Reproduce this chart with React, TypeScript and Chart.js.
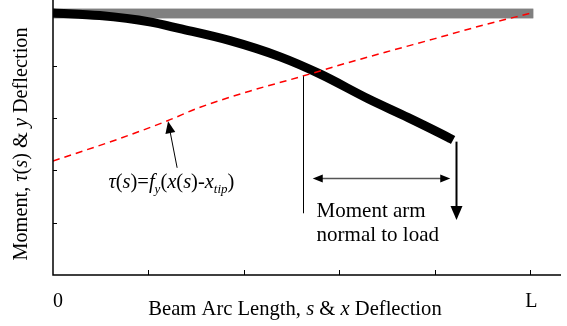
import React, { useEffect, useRef } from 'react';
import { Chart, registerables } from 'chart.js';

Chart.register(...registerables);

// ---- data ----
const xTicks = [0, 1, 2, 3, 4, 5];
const xTickLabels = ['0', '', '', '', '', 'L'];
const yTicks = [1, 2, 3, 4, 5];

const refS = [0, 5.03];
const refY = [5, 5];

const beamS = [0, 0.49, 1.01, 1.33, 1.855, 2.38, 2.8, 3.3, 3.72, 4.14, 4.19];
const beamY = [5.01, 4.96, 4.84, 4.71, 4.48, 4.17, 3.84, 3.37, 3.01, 2.63, 2.58];

const tauS = [0, 0.7, 1.2, 1.53, 2.05, 2.59, 3.09, 3.54, 4.0, 4.45, 5.03];
const tauY = [2.18, 2.61, 2.95, 3.2, 3.51, 3.79, 4.06, 4.29, 4.52, 4.75, 5.02];

// annotation anchors (data units)
const armLineS = 2.62;
const armLineY = [3.8, 1.18];
const momentArmS = [2.72, 4.16];
const momentArmY = 1.85;
const loadS = 4.22;
const loadY = [2.55, 1.05];
const tauArrowFrom = [1.3, 2.05];
const tauArrowTo = [1.205, 2.94];
const tauLabelPos = [0.58, 1.66];
const armTextPos = [2.76, 1.1];

const xMax = 5.32;
const yMax = 5.22;

const FONT = '"Liberation Serif", "Times New Roman", serif';

type Seg = { t: string; it?: boolean; sub?: boolean };

function drawRich(ctx: CanvasRenderingContext2D, segs: Seg[], x: number, y: number, size: number, align: 'left' | 'center') {
  const fontOf = (s: Seg) => `${s.it ? 'italic ' : ''}${s.sub ? Math.round(size * 0.65) : size}px ${FONT}`;
  const widths = segs.map((s) => {
    ctx.font = fontOf(s);
    return ctx.measureText(s.t).width;
  });
  const total = widths.reduce((a, b) => a + b, 0);
  let cx = align === 'center' ? x - total / 2 : x;
  ctx.textAlign = 'left';
  ctx.textBaseline = 'alphabetic';
  segs.forEach((s, i) => {
    ctx.font = fontOf(s);
    ctx.fillText(s.t, cx, s.sub ? y + size * 0.25 : y);
    cx += widths[i];
  });
}

function arrowHead(ctx: CanvasRenderingContext2D, x1: number, y1: number, x2: number, y2: number, len: number, half: number) {
  const a = Math.atan2(y2 - y1, x2 - x1);
  ctx.beginPath();
  ctx.moveTo(x2, y2);
  ctx.lineTo(x2 - len * Math.cos(a) + half * Math.sin(a), y2 - len * Math.sin(a) - half * Math.cos(a));
  ctx.lineTo(x2 - len * Math.cos(a) - half * Math.sin(a), y2 - len * Math.sin(a) + half * Math.cos(a));
  ctx.closePath();
  ctx.fill();
}

const decorPlugin = {
  id: 'decor',
  afterDatasetsDraw(chart: any) {
    const ctx: CanvasRenderingContext2D = chart.ctx;
    const xs = chart.scales.x;
    const ys = chart.scales.y;
    const { left, right, top, bottom } = chart.chartArea;
    const px = (v: number) => xs.getPixelForValue(v);
    const py = (v: number) => ys.getPixelForValue(v);
    ctx.save();
    ctx.fillStyle = '#000';
    ctx.strokeStyle = '#000';
    // axes
    ctx.lineWidth = 1.5;
    ctx.beginPath();
    ctx.moveTo(left, top - 2);
    ctx.lineTo(left, bottom);
    ctx.lineTo(right, bottom);
    ctx.stroke();
    ctx.lineWidth = 1;
    yTicks.forEach((v) => {
      ctx.beginPath();
      ctx.moveTo(left, Math.round(py(v)) + 0.5);
      ctx.lineTo(left + 4, Math.round(py(v)) + 0.5);
      ctx.stroke();
    });
    xTicks.slice(1).forEach((v) => {
      ctx.beginPath();
      ctx.moveTo(Math.round(px(v)) + 0.5, bottom);
      ctx.lineTo(Math.round(px(v)) + 0.5, bottom - 5);
      ctx.stroke();
    });
    // tick labels
    ctx.font = `20px ${FONT}`;
    ctx.textAlign = 'center';
    ctx.textBaseline = 'alphabetic';
    xTicks.forEach((v, i) => {
      if (!xTickLabels[i]) return;
      ctx.fillText(xTickLabels[i], px(v) + (i === 0 ? 5 : 1), bottom + 32);
    });
    // axis titles
    drawRich(ctx, [
      { t: 'Beam Arc Length, ' }, { t: 's', it: true }, { t: ' & ' }, { t: 'x', it: true }, { t: ' Deflection' },
    ], 295, 315, 20.6, 'center');
    ctx.save();
    ctx.translate(27, 144);
    ctx.rotate(-Math.PI / 2);
    drawRich(ctx, [
      { t: 'Moment, ' }, { t: 'τ', it: true }, { t: '(' }, { t: 's', it: true }, { t: ') & ' }, { t: 'y', it: true }, { t: ' Deflection' },
    ], 0, 0, 20.3, 'center');
    ctx.restore();

    // vertical reference line
    ctx.lineWidth = 1;
    ctx.beginPath();
    ctx.moveTo(Math.round(px(armLineS)) + 0.5, py(armLineY[0]));
    ctx.lineTo(Math.round(px(armLineS)) + 0.5, py(armLineY[1]));
    ctx.stroke();

    // moment arm double arrow
    const ay = Math.round(py(momentArmY)) + 0.5;
    const ax1 = px(momentArmS[0]);
    const ax2 = px(momentArmS[1]);
    ctx.strokeStyle = '#555';
    ctx.lineWidth = 1.5;
    ctx.beginPath();
    ctx.moveTo(ax1 + 6, ay);
    ctx.lineTo(ax2 - 6, ay);
    ctx.stroke();
    ctx.fillStyle = '#000';
    arrowHead(ctx, ax2, ay, ax1, ay, 10, 4);
    arrowHead(ctx, ax1, ay, ax2, ay, 10, 4);

    // load arrow
    const lx = Math.round(px(loadS)) + 0.5;
    ctx.strokeStyle = '#000';
    ctx.lineWidth = 2;
    ctx.beginPath();
    ctx.moveTo(lx, py(loadY[0]));
    ctx.lineTo(lx, py(loadY[1]) - 10);
    ctx.stroke();
    arrowHead(ctx, lx, py(loadY[0]), lx, py(loadY[1]), 14, 6);

    // tau arrow
    const tx1 = px(tauArrowFrom[0]);
    const ty1 = py(tauArrowFrom[1]);
    const tx2 = px(tauArrowTo[0]);
    const ty2 = py(tauArrowTo[1]);
    ctx.lineWidth = 1;
    ctx.beginPath();
    ctx.moveTo(tx1, ty1);
    ctx.lineTo(tx2 + (tx1 - tx2) * 0.2, ty2 + (ty1 - ty2) * 0.2);
    ctx.stroke();
    arrowHead(ctx, tx1, ty1, tx2, ty2, 12, 5);

    // labels
    drawRich(ctx, [
      { t: 'τ', it: true }, { t: '(' }, { t: 's', it: true }, { t: ')=' }, { t: 'f', it: true }, { t: 'y', it: true, sub: true },
      { t: '(' }, { t: 'x', it: true }, { t: '(' }, { t: 's', it: true }, { t: ')-' }, { t: 'x', it: true }, { t: 'tip', it: true, sub: true }, { t: ')' },
    ], px(tauLabelPos[0]), py(tauLabelPos[1]), 20.5, 'left');
    ctx.font = `21px ${FONT}`;
    ctx.textAlign = 'left';
    ctx.fillText('Moment arm', px(armTextPos[0]), py(armTextPos[1]));
    ctx.fillText('normal to load', px(armTextPos[0]), py(armTextPos[1]) + 24);
    ctx.restore();
  },
};

const pts = (xs: number[], ys: number[]) => xs.map((x, i) => ({ x, y: ys[i] }));

export default function App() {
  const ref = useRef<HTMLCanvasElement>(null);
  useEffect(() => {
    if (!ref.current) return;
    const chart = new Chart(ref.current, {
      type: 'scatter',
      data: {
        datasets: [
          {
            data: pts(refS, refY),
            showLine: true,
            borderColor: '#c8c8c8',
            borderWidth: 11,
            borderCapStyle: 'butt',
            pointRadius: 0,
            order: 4,
          },
          {
            data: pts(refS, refY),
            showLine: true,
            borderColor: '#808080',
            borderWidth: 9,
            borderCapStyle: 'butt',
            pointRadius: 0,
            order: 3,
          },
          {
            data: pts(beamS, beamY),
            showLine: true,
            borderColor: '#000000',
            borderWidth: 9,
            borderCapStyle: 'butt',
            borderJoinStyle: 'round',
            cubicInterpolationMode: 'monotone',
            pointRadius: 0,
            order: 2,
          },
          {
            data: pts(tauS, tauY),
            showLine: true,
            borderColor: '#ff0000',
            borderWidth: 1.5,
            borderDash: [7, 5],
            cubicInterpolationMode: 'monotone',
            pointRadius: 0,
            order: 1,
          },
        ],
      } as any,
      options: {
        animation: false,
        responsive: false,
        layout: { padding: { left: 53, right: 6, top: 2, bottom: 51 } },
        plugins: { legend: { display: false }, tooltip: { enabled: false } },
        scales: {
          x: { type: 'linear', min: 0, max: xMax, display: false },
          y: { type: 'linear', min: 0, max: yMax, display: false },
        },
      } as any,
      plugins: [decorPlugin],
    });
    return () => chart.destroy();
  }, []);
  return (
    <div style={{ position: 'fixed', left: 0, top: 0, width: 567, height: 326, background: '#fff' }}>
      <canvas ref={ref} width={567} height={326} style={{ display: 'block' }} />
    </div>
  );
}
